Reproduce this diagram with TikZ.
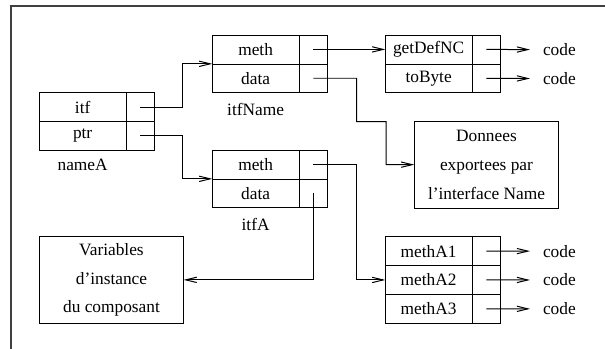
\documentclass[tikz,border=0pt]{standalone}
\usepackage{fontspec}
\setmainfont{Liberation Serif}
\usepackage{tikz}
\usetikzlibrary{positioning,arrows.meta}

\begin{document}
\begin{tikzpicture}[x=0.6pt,y=-0.6pt,
		font=\fontsize{10.4}{17.3}\selectfont,
		every node/.style={inner sep=0pt,outer sep=0pt},
		namecell/.style={draw,minimum width=52pt,minimum height=17.3pt},
		ptrcell/.style={draw,minimum width=17.2pt,minimum height=17.3pt},
		bigbox/.style={draw,minimum width=86.6pt,minimum height=51.8pt,align=center},
		codelbl/.style={inner xsep=7.8pt},
		link/.style={line width=0.6pt,-{Straight Barb[length=6.6pt,width=3.2pt]}}]
		\useasboundingbox (0,0) rectangle (605,349);
		% FRAME
		\draw [line width=0.7pt,black!75] (605,6) -- (11,6) -- (11,349);
		% nameA
		\node [namecell,anchor=north west] (nameA-itf) at (39.3,92.7) {itf};
		\node [ptrcell,right=0pt of nameA-itf] (nameA-itfp) {};
		\node [namecell,below=0pt of nameA-itf] (nameA-ptr) {ptr};
		\node [ptrcell,right=0pt of nameA-ptr] (nameA-ptrp) {};
		\node [below=5.2pt of nameA-ptr] (nameA-lbl) {nameA};
		% itfName
		\node [namecell,anchor=north west] (itfName-meth) at (212.3,35) {meth};
		\node [ptrcell,right=0pt of itfName-meth] (itfName-methp) {};
		\node [namecell,below=0pt of itfName-meth] (itfName-data) {data};
		\node [ptrcell,right=0pt of itfName-data] (itfName-datap) {};
		\node [below=6.3pt of itfName-data] (itfName-lbl) {itfName};
		% itfA
		\node [namecell,anchor=north west] (itfA-meth) at (212.3,150) {meth};
		\node [ptrcell,right=0pt of itfA-meth] (itfA-methp) {};
		\node [namecell,below=0pt of itfA-meth] (itfA-data) {data};
		\node [ptrcell,right=0pt of itfA-data] (itfA-datap) {};
		\node [below=6.3pt of itfA-data] (itfA-lbl) {itfA};
		% METHODS OF itfName
		\node [namecell,anchor=north west] (getDefNC) at (385.3,35) {getDefNC};
		\node [ptrcell,right=0pt of getDefNC] (getDefNC-p) {};
		\node [namecell,below=0pt of getDefNC] (toByte) {toByte};
		\node [ptrcell,right=0pt of toByte] (toByte-p) {};
		\node [codelbl,anchor=west] (getDefNC-code) at (530,49.7) {code};
		\node [codelbl,anchor=west] (toByte-code) at (530,78.7) {code};
		% METHODS OF itfA
		\node [namecell,anchor=north west] (methA1) at (385.3,236.7) {methA1};
		\node [ptrcell,right=0pt of methA1] (methA1-p) {};
		\node [namecell,below=0pt of methA1] (methA2) {methA2};
		\node [ptrcell,right=0pt of methA2] (methA2-p) {};
		\node [namecell,below=0pt of methA2] (methA3) {methA3};
		\node [ptrcell,right=0pt of methA3] (methA3-p) {};
		\node [codelbl,anchor=west] (methA1-code) at (530,251.1) {code};
		\node [codelbl,anchor=west] (methA2-code) at (530,280) {code};
		\node [codelbl,anchor=west] (methA3-code) at (530,308.9) {code};
		% DATA
		\node [bigbox,anchor=north west] (donnees) at (414.3,121.7) {Donnees\\exportees par\\l'interface Name};
		\node [bigbox,anchor=north west] (vars) at (39.3,236.7) {Variables\\d'instance\\du composant};
		% POINTERS
		\draw [link] (nameA-itfp.center) -- ++(42.6,0) |- (itfName-meth.south west);
		\draw [link] (nameA-ptrp.center) -- ++(42.6,0) |- (itfA-meth.south west);
		\draw [link] (itfName-methp.center) -- (getDefNC);
		\draw [link] (itfName-datap.center) -| (356.7,121.7) -| (386,164.6) -- (donnees);
		\draw [link] (itfA-methp.center) -- ++(43.4,0) |- (methA2);
		\draw [link] (itfA-datap.center) |- (vars);
		\draw [link] (getDefNC-p.center) -- (getDefNC-code);
		\draw [link] (toByte-p.center) -- (toByte-code);
		\draw [link] (methA1-p.center) -- (methA1-code);
		\draw [link] (methA2-p.center) -- (methA2-code);
		\draw [link] (methA3-p.center) -- (methA3-code);
\end{tikzpicture}
\end{document}
